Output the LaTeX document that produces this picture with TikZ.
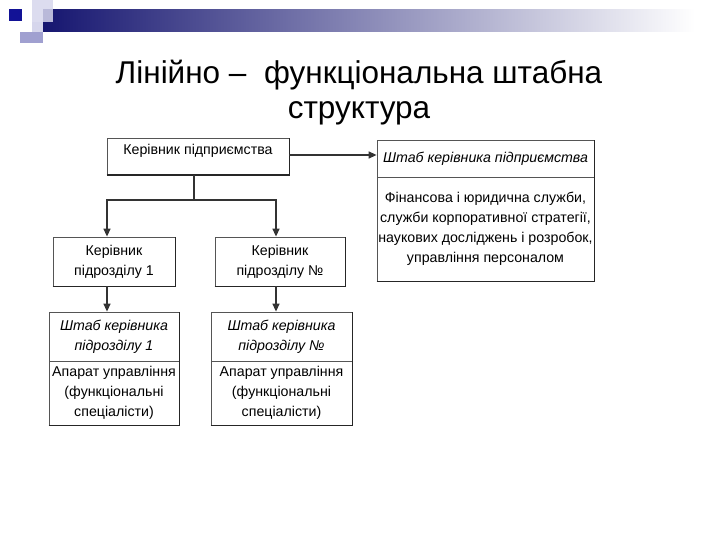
\documentclass[tikz,border=0pt]{standalone}
\usepackage{fontspec}
\setmainfont{Liberation Sans}
\newfontfamily\titlefont{Liberation Sans}
\usepackage{xcolor}
\usetikzlibrary{arrows.meta,positioning,calc}

\definecolor{barnavy}{RGB}{22,22,112}
\definecolor{sqdark}{RGB}{18,18,150}
\definecolor{sqlight}{RGB}{214,214,236}
\definecolor{sqmid}{RGB}{160,160,208}
\definecolor{boxline}{RGB}{85,85,85}

\tikzset{
  unit/.style={draw=boxline,line width=0.8pt,align=center,font=\fontsize{14.2}{20}\selectfont,inner sep=0pt},
  staff/.style={unit,font=\fontsize{14.2}{20}\selectfont\itshape},
  link/.style={draw=black!80,line width=1.4pt,-{Triangle[length=8pt,width=7pt]}},
}

\begin{document}
\begin{tikzpicture}[x=1pt,y=-1pt]
        \useasboundingbox (0,0) rectangle (720,540);
        % slide decoration
        \shade[left color=barnavy,right color=white] (43,10) rectangle (695,32);
        \fill[sqlight,opacity=0.85] (32,0) rectangle (53,22);
        \fill[sqlight] (32,22) rectangle (43,32);
        \fill[sqmid] (20,32) rectangle (43,43);
        \fill[sqdark] (9,9) rectangle (22,21);
        % title
        \node[font=\titlefont\fontsize{31.5}{35}\selectfont,align=center] (title) at (359,93)
          {Лінійно –\ \ функціональна штабна\\структура};
        % top level
        \node[unit,minimum width=182pt,text height=14pt,text depth=17pt,inner ysep=3pt] (head) at (198,156.5) {Керівник підприємства};
        \node[staff,minimum width=217pt,minimum height=37pt] (hq) at (485.5,158.5) {Штаб керівника підприємства};
        \node[unit,minimum width=217pt,minimum height=104pt] (hqfun) at (485.5,229)
          {Фінансова і юридична служби,\\служби корпоративної стратегії,\\наукових досліджень і розробок,\\управління персоналом};
        % divisions
        \node[unit,minimum width=122pt,minimum height=49pt] (divA) at (114,261.5) {Керівник\\підрозділу 1};
        \node[unit,minimum width=130pt,minimum height=49pt] (divN) at (280,261.5) {Керівник\\підрозділу №};
        \node[staff,minimum width=130pt,minimum height=49pt] (staffA) at (114,336.5) {Штаб керівника\\підрозділу 1};
        \node[unit,minimum width=130pt,minimum height=64pt] (appA) at (114,393) {Апарат управління\\(функціональні\\спеціалісти)};
        \node[staff,minimum width=141pt,minimum height=49pt] (staffN) at (281.5,336.5) {Штаб керівника\\підрозділу №};
        \node[unit,minimum width=141pt,minimum height=64pt] (appN) at (281.5,393) {Апарат управління\\(функціональні\\спеціалісти)};
        % heavier lower and right edges
        \foreach \n in {head,hqfun,divA,divN,appA,appN}
          \draw[black!85,line width=1.8pt] (\n.south west) -- (\n.south east) -- (\n.north east);
        \foreach \n in {hq,staffA,staffN}
          \draw[black!85,line width=1.8pt] (\n.south east) -- (\n.north east);
        % connectors
        \coordinate (split) at (194,200);
        \coordinate (dropA) at (107,200);
        \coordinate (dropN) at (276,200);
        \draw[link] (head.east |- 0,155) -- (hq.west |- 0,155);
        \draw[draw=black!80,line width=1.4pt] (head.south -| split) -- (split);
        \draw[link] (split) -- (dropA) -- (dropA |- divA.north);
        \draw[link] (split) -- (dropN) -- (dropN |- divN.north);
        \draw[link] (divA.south -| dropA) -- (staffA.north -| dropA);
        \draw[link] (divN.south -| dropN) -- (staffN.north -| dropN);
      \end{tikzpicture}
\end{document}
